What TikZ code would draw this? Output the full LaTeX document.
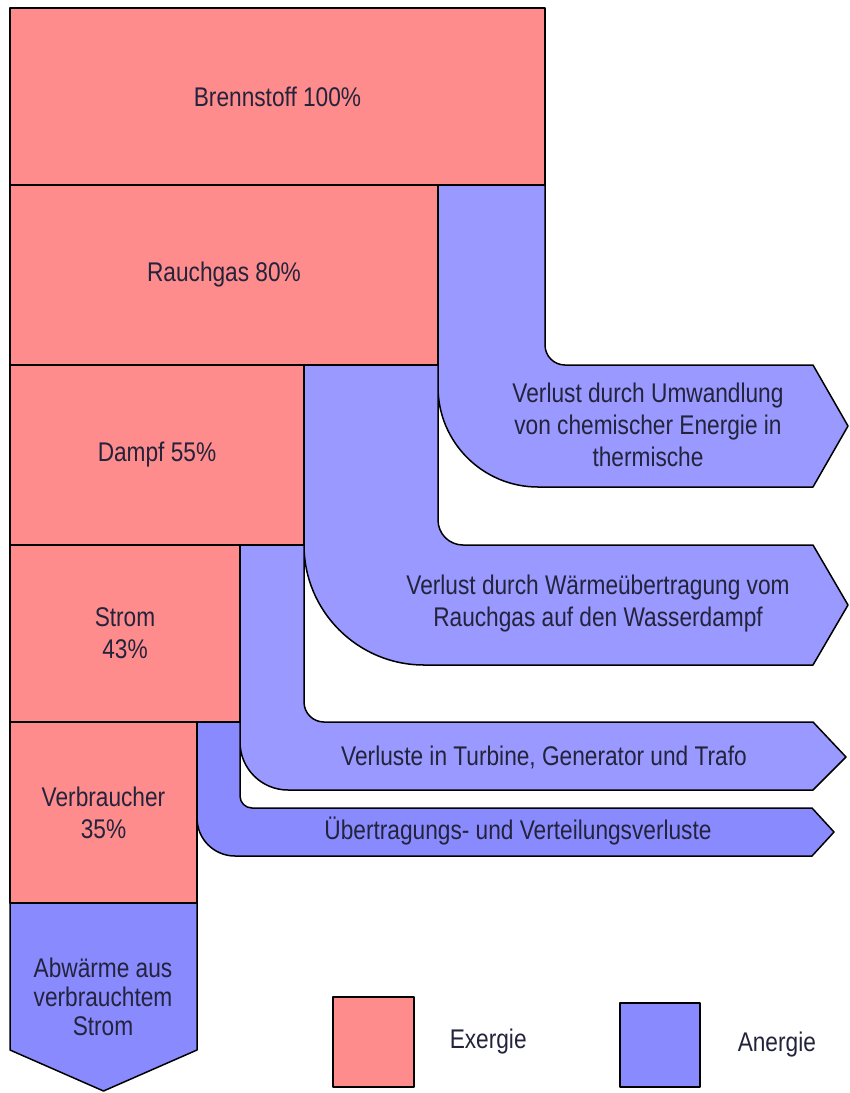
\documentclass[tikz,border=0pt]{standalone}
\usepackage{fontspec}
\setmainfont{Liberation Sans}[FakeStretch=0.84]
\usetikzlibrary{positioning}
\definecolor{exred}{RGB}{255,140,140}
\definecolor{anblue}{RGB}{153,153,255}
\definecolor{anblueb}{RGB}{138,138,255}
\definecolor{textnavy}{RGB}{35,35,60}

\begin{document}
\begin{tikzpicture}[x=1pt, y=-1pt, line width=1.5pt, line join=round,
    exbox/.style={draw, fill=exred, anchor=north west, inner sep=0pt, outer sep=0pt, align=center, text=textnavy, font=\fontsize{27}{32}\selectfont},
    anflow/.style={draw, fill=anblue},
    flowtext/.style={align=center, inner sep=0pt, text=textnavy, font=\fontsize{27}{32}\selectfont}]
    \useasboundingbox (0,0) rectangle (850,1093);
    \node[exbox, minimum width=535, minimum height=177] (brenn) at (10,8) {Brennstoff 100\%};
    \node[exbox, minimum width=428, minimum height=180] (rauch) at (10,185) {Rauchgas 80\%};
    \node[exbox, minimum width=294, minimum height=180] (dampf) at (10,365) {Dampf 55\%};
    \node[exbox, minimum width=230, minimum height=177] (strom) at (10,545) {Strom\\43\%};
    \node[exbox, minimum width=187, minimum height=181] (verbr) at (10,722) {Verbraucher\\35\%};
    \draw[anflow] (rauch.north east) -- (brenn.south east) -- (545,345) arc[start angle=180, end angle=90, radius=20] -- (813,365) -- (848,426) -- (813,487) -- (538,487) arc[start angle=90, end angle=180, radius=100] -- cycle;
    \draw[anflow] (dampf.north east) -- (rauch.south east) -- (438,520) arc[start angle=180, end angle=90, radius=25] -- (813,545) -- (848,605) -- (813,665) -- (424,665) arc[start angle=90, end angle=180, radius=120] -- cycle;
    \draw[anflow] (strom.north east) -- (dampf.south east) -- (304,702) arc[start angle=180, end angle=90, radius=20] -- (813,722) -- (846,757) -- (813,790) -- (288,790) arc[start angle=90, end angle=180, radius=48] -- cycle;
    \draw[anflow, fill=anblueb] (verbr.north east) -- (strom.south east) -- (240,796) arc[start angle=180, end angle=90, radius=12] -- (812,808) -- (834,832) -- (812,856) -- (235,856) arc[start angle=90, end angle=180, radius=38] -- cycle;
    \draw[anflow, fill=anblueb] (verbr.south west) -- (verbr.south east) -- (197,1050) -- (103.5,1091) -- (10,1050) -- cycle;
    \node[flowtext] (loss1) at (648,425) {Verlust durch Umwandlung\\von chemischer Energie in\\thermische};
    \node[flowtext] (loss2) at (598,604) {Verlust durch Wärmeübertragung vom\\Rauchgas auf den Wasserdampf};
    \node[flowtext] (loss3) at (544,757) {Verluste in Turbine, Generator und Trafo};
    \node[flowtext] (loss4) at (518,831) {Übertragungs- und Verteilungsverluste};
    \node[flowtext, font=\fontsize{27}{29}\selectfont] (abw) at (103,997) {Abwärme aus\\verbrauchtem\\Strom};
    \node[draw, fill=exred, minimum width=81, minimum height=90, anchor=north west, outer sep=0pt] (exleg) at (333,997) {};
    \node[flowtext, right=35pt of exleg] (exlabel) {Exergie};
    \node[draw, fill=anblueb, minimum width=80, minimum height=84, anchor=north west, outer sep=0pt] (anleg) at (620,1003) {};
    \node[flowtext, right=37pt of anleg] (anlabel) {Anergie};
\end{tikzpicture}
\end{document}
